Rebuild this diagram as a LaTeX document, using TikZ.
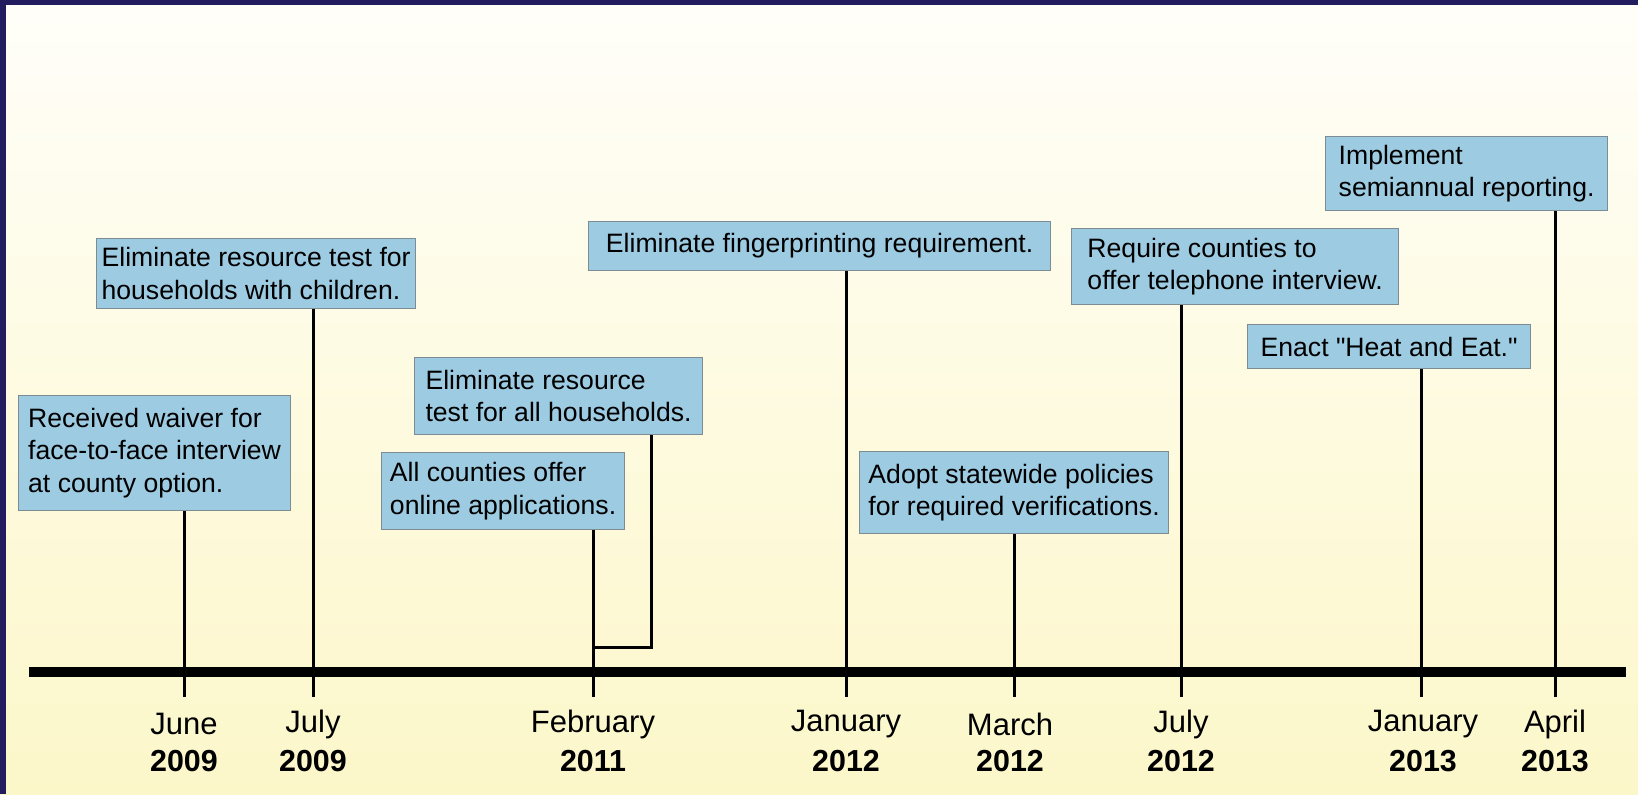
\documentclass[tikz,border=0pt]{standalone}
\usepackage{fontspec}
\setmainfont{Liberation Sans}
\usetikzlibrary{positioning}
\definecolor{navy}{HTML}{211D5F}
\definecolor{boxblue}{HTML}{9CCBE2}
\definecolor{boxline}{HTML}{7D8C92}
\definecolor{paperbot}{HTML}{FCF7C9}
\definecolor{papertop}{HTML}{FFFEF9}

\begin{document}
\begin{tikzpicture}[x=0.5pt,y=-0.5pt,
  evt/.style={draw=boxline,fill=boxblue,anchor=north west,align=left,
    inner xsep=2pt,inner ysep=0pt,line width=0.6pt,
    font=\fontsize{13.3}{16.2}\selectfont},
  stem/.style={line width=1.5pt},
  month/.style={font=\fontsize{15.5}{17}\selectfont},
  year/.style={font=\fontsize{15.2}{17}\selectfont\bfseries}
]
  \useasboundingbox (0,0) rectangle (1638,794);
  % background and frame
  \shade[top color=papertop,bottom color=paperbot] (0,0) rectangle (1638,794);
  \fill[navy] (0,0) rectangle (1638,5);
  \fill[navy] (0,0) rectangle (6,794);

  % time axis
  \draw[line width=5pt] (29,672) -- (1626,672);
  \foreach \name/\x/\m/\yr in {jun09/184/June/2009, jul09/313/July/2009,
      feb11/593/February/2011, jan12/846/January/2012, mar12/1010/March/2012,
      jul12/1181/July/2012, jan13/1423/January/2013, apr13/1555/April/2013}{
    \coordinate (\name) at (\x,697);
    \node[month] (m\name) at (\x,724) {\m};
    \node[year] (y\name) at (\x,761) {\yr};
  }

  % events
  \node[evt,minimum width=136pt,minimum height=57.5pt] (waiver) at (18,395)
    {Received waiver for\\face-to-face interview\\at county option.};
  \node[evt,minimum width=159.5pt,minimum height=35pt] (kids) at (96,238)
    {Eliminate resource test for\\households with children.};
  \node[evt,minimum width=144pt,minimum height=38.5pt] (allhh) at (414,357)
    {Eliminate resource\\test for all households.};
  \node[evt,minimum width=121.5pt,minimum height=38.5pt] (online) at (381,452)
    {All counties offer\\online applications.};
  \node[evt,minimum width=231pt,minimum height=24.5pt] (finger) at (588,221)
    {Eliminate fingerprinting requirement.};
  \node[evt,minimum width=154.5pt,minimum height=41pt] (verify) at (859,451)
    {Adopt statewide policies\\for required verifications.};
  \node[evt,minimum width=163.5pt,minimum height=38pt] (phone) at (1071,228)
    {Require counties to\\offer telephone interview.};
  \node[evt,minimum width=141.5pt,minimum height=22pt] (heat) at (1247,324)
    {Enact \textquotedbl Heat and Eat.\textquotedbl};
  \node[evt,minimum width=141pt,minimum height=37pt] (semi) at (1325,136)
    {Implement\\semiannual reporting.};

  % stems down to the axis
  \draw[stem] (jun09 |- waiver.south) -- (jun09);
  \draw[stem] (jul09 |- kids.south) -- (jul09);
  \draw[stem] (feb11 |- online.south) -- (feb11);
  \coordinate (elbow) at (651,647);
  \draw[stem] (elbow |- allhh.south) -- (elbow) -- (elbow -| feb11);
  \draw[stem] (jan12 |- finger.south) -- (jan12);
  \draw[stem] ([xshift=2pt]mar12 |- verify.south) -- ([xshift=2pt]mar12);
  \draw[stem] (jul12 |- phone.south) -- (jul12);
  \draw[stem] ([xshift=-1pt]jan13 |- heat.south) -- ([xshift=-1pt]jan13);
  \draw[stem] (apr13 |- semi.south) -- (apr13);
\end{tikzpicture}
\end{document}
